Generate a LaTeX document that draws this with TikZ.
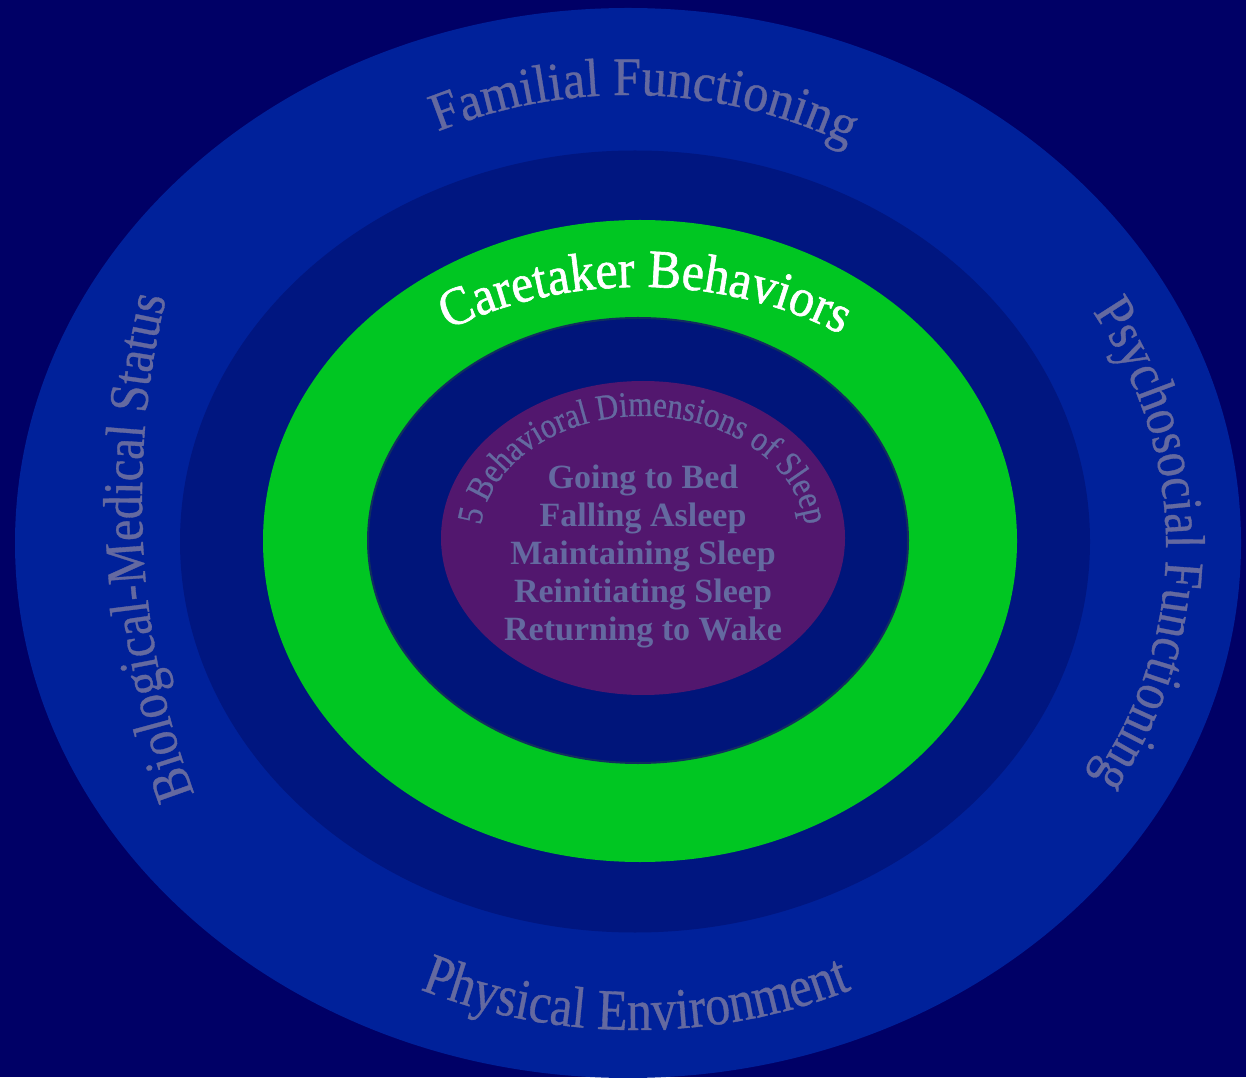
\documentclass[tikz,border=0pt]{standalone}
\usepackage{fontspec}
\setmainfont{Liberation Serif}
\newfontfamily\ringfont[FakeStretch=0.86,FakeBold=0.6]{Liberation Serif}
\newfontfamily\archfont[FakeStretch=0.93,FakeBold=0.6]{Liberation Serif}
\newfontfamily\carefont[FakeStretch=0.92,FakeBold=1.1]{Liberation Serif}
\usetikzlibrary{decorations.text}
\definecolor{bgnavy}{HTML}{000066}
\definecolor{ringouter}{HTML}{00219A}
\definecolor{ringmid}{HTML}{001680}
\definecolor{ringgreen}{HTML}{00C622}
\definecolor{ringinner}{HTML}{00157A}
\definecolor{innerline}{HTML}{10305E}
\definecolor{corepurple}{HTML}{52176E}
\definecolor{txtgray}{HTML}{6469A0}
\tikzset{arclabel/.style={decorate, decoration={text along path, text align=center}}}
\begin{document}
\begin{tikzpicture}[x=1pt,y=1pt]
\useasboundingbox (0,0) rectangle (1246,1077);
\fill[bgnavy] (0,0) rectangle (1246,1077);
\fill[ringouter] (628,534) ellipse[x radius=613, y radius=535];
\fill[ringmid] (635,535.5) ellipse[x radius=455, y radius=391];
\fill[ringgreen] (640,536) ellipse[x radius=377, y radius=321];
\filldraw[fill=ringinner, draw=innerline, line width=2] (638,536.5) ellipse[x radius=270, y radius=222.5];
\fill[corepurple] (643,539) ellipse[x radius=202, y radius=157];

% outer ring labels
\begin{scope}[shift={(628,534)}]
\path[arclabel, decoration={text={|\color{txtgray}\archfont\fontsize{54}{60}\selectfont|Familial Functioning}}]
  (125:480 and 448) arc[start angle=125, end angle=51, x radius=480, y radius=448];
\end{scope}
\begin{scope}[shift={(628,577)}]
\path[arclabel, decoration={text={|\color{txtgray}\ringfont\fontsize{56}{60}\selectfont|Biological-Medical Status}}]
  (215:486 and 650) arc[start angle=215, end angle=154, x radius=486, y radius=650];
\end{scope}
\begin{scope}[shift={(646,532)}]
\path[arclabel, decoration={text={|\color{txtgray}\ringfont\fontsize{56}{60}\selectfont|Psychosocial Functioning}}]
  (38:520 and 455) arc[start angle=38, end angle=-38, x radius=520, y radius=455];
\end{scope}
\begin{scope}[shift={(636,534)}]
\path[arclabel, decoration={text={|\color{txtgray}\ringfont\fontsize{58}{60}\selectfont|Physical Environment}}]
  (240:540 and 487) arc[start angle=240, end angle=300, x radius=540, y radius=487];
\end{scope}

% green ring label
\begin{scope}[shift={(640,536)}]
\path[arclabel, decoration={text={|\color{white}\carefont\fontsize{54}{60}\selectfont|Caretaker Behaviors}}]
  (135:345 and 254) arc[start angle=135, end angle=43, x radius=345, y radius=254];
\end{scope}

% core
\begin{scope}[shift={(643,539)}]
\path[arclabel, decoration={text={|\color{txtgray}\ringfont\fontsize{36}{38}\selectfont|5 Behavioral Dimensions of Sleep}}]
  (180:163 and 122) arc[start angle=180, end angle=0, x radius=163, y radius=122];
\end{scope}
\node[text=txtgray, font=\bfseries\fontsize{34}{38}\selectfont, align=center, inner sep=0] (dims) at (643,521)
  {Going to Bed\\Falling Asleep\\Maintaining Sleep\\Reinitiating Sleep\\Returning to Wake};
\end{tikzpicture}
\end{document}
